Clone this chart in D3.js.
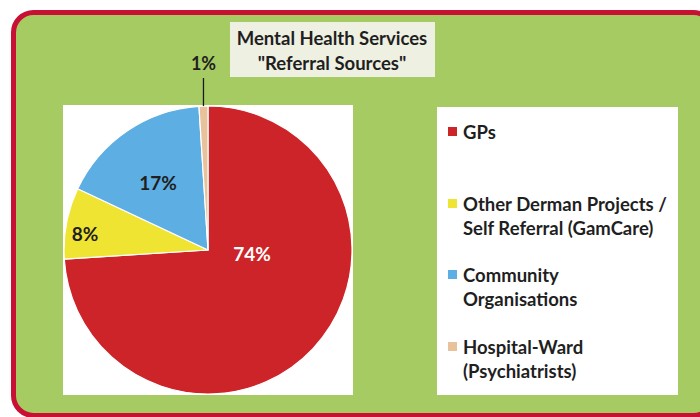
<!DOCTYPE html>
<html><head><meta charset="utf-8">
<script src="https://cdn.jsdelivr.net/npm/d3@7"></script>
<style>html,body{margin:0;padding:0;background:#fff;}svg{display:block;}</style>
</head><body>
<svg id="c" width="700" height="417"></svg>
<script>
const categories = ["GPs", "Other Derman Projects / Self Referral (GamCare)", "Community Organisations", "Hospital-Ward (Psychiatrists)"];
const legendLines = [["GPs"], ["Other Derman Projects /", "Self Referral (GamCare)"], ["Community", "Organisations"], ["Hospital-Ward", "(Psychiatrists)"]];
const values = [74, 8, 17, 1];
const colors = ["#cc2428", "#f0e432", "#5daee2", "#e8c29a"];
const titleLines = ["Mental Health Services", "\"Referral Sources\""];

const svg = d3.select("#c");
const FONT = "Lato, 'Open Sans', sans-serif";
const FS = 18.5;

svg.append("rect").attr("x", 13.5).attr("y", 12.5).attr("width", 700).attr("height", 403)
  .attr("rx", 20).attr("fill", "#a6cb63").attr("stroke", "#c80f34").attr("stroke-width", 5);

// title box
svg.append("rect").attr("x", 230).attr("y", 22).attr("width", 205).attr("height", 55).attr("fill", "#eef0e1");
svg.append("text").attr("x", 332).attr("y", 45).attr("text-anchor", "middle")
  .attr("font-family", FONT).attr("font-weight", "bold").attr("font-size", FS).attr("fill", "#1f1f1f")
  .selectAll("tspan").data(titleLines).join("tspan")
  .attr("x", 332).attr("dy", (d, i) => i ? 25 : 0).text(d => d);

// pie plot area
const plot = {x: 63, y: 105, w: 290, h: 290};
svg.append("rect").attr("x", plot.x).attr("y", plot.y).attr("width", plot.w).attr("height", plot.h).attr("fill", "#ffffff");

const cx = 208, cy = 250, r = 144;
const pie = d3.pie().sort(null).value(d => d)(values);
const arc = d3.arc().innerRadius(0).outerRadius(r);
const g = svg.append("g").attr("transform", `translate(${cx},${cy})`);
g.selectAll("path").data(pie).join("path")
  .attr("d", arc).attr("fill", (d, i) => colors[i]).attr("stroke", "#fff").attr("stroke-width", 1.2);

// labels
const pct = values.map(v => v + "%");
const labelPos = [[44, 4], [-123, -16], [-50, -67], null];
pie.forEach((d, i) => {
  if (i === 3) return;
  const p = labelPos[i];
  g.append("text").attr("x", p[0]).attr("y", p[1] + 7).attr("text-anchor", "middle")
    .attr("font-family", FONT).attr("font-weight", "bold").attr("font-size", 19)
    .attr("fill", i === 0 ? "#ffffff" : "#1f1f1f").text(pct[i]);
});
// 1% leader
const a3 = (pie[3].startAngle + pie[3].endAngle) / 2;
const ex = Math.sin(a3) * r, ey = -Math.cos(a3) * r;
g.append("line").attr("x1", ex).attr("y1", ey).attr("x2", ex).attr("y2", -172)
  .attr("stroke", "#1a1a1a").attr("stroke-width", 1.3);
g.append("text").attr("x", ex).attr("y", -180).attr("text-anchor", "middle")
  .attr("font-family", FONT).attr("font-weight", "bold").attr("font-size", 18).attr("fill", "#1f1f1f").text(pct[3]);

// legend
svg.append("rect").attr("x", 437).attr("y", 107).attr("width", 241).attr("height", 288).attr("fill", "#ffffff");
const legY = [132, 204, 275, 347];
legendLines.forEach((lines, i) => {
  svg.append("rect").attr("x", 448).attr("y", legY[i] - 5).attr("width", 9).attr("height", 9).attr("fill", colors[i]);
  svg.append("text").attr("font-family", FONT).attr("font-weight", "bold").attr("font-size", FS).attr("fill", "#1f1f1f")
    .selectAll("tspan").data(lines).join("tspan")
    .attr("x", 463).attr("y", (d, j) => legY[i] + 6.5 + j * 24).text(d => d);
});
</script>
</body></html>
